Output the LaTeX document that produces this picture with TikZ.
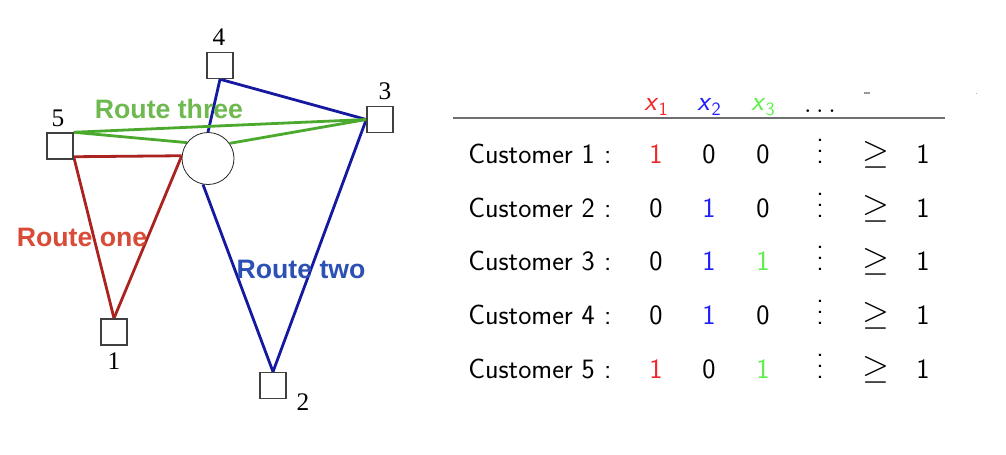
\documentclass[tikz,border=0pt]{standalone}
\usepackage{fontspec}
\usepackage{graphicx}
\usetikzlibrary{calc}
\newfontfamily\routefont{Liberation Sans}
\newfontfamily\numfont{Liberation Serif}
\definecolor{tred}{RGB}{240,40,40}
\definecolor{tblue}{RGB}{30,30,250}
\definecolor{tgreen}{RGB}{90,240,70}
\definecolor{lred}{RGB}{170,35,30}
\definecolor{lblue}{RGB}{20,25,160}
\definecolor{lgreen}{RGB}{75,170,45}
\definecolor{rone}{RGB}{215,75,55}
\definecolor{rtwo}{RGB}{45,80,180}
\definecolor{rthree}{RGB}{110,185,80}
\definecolor{rulegray}{RGB}{110,110,110}
\pgfdeclarelayer{bg}
\pgfsetlayers{bg,main}
\newcommand{\xvar}[1]{\textsl{x}\raisebox{-0.2em}{\fontsize{14}{14}\selectfont #1}}
\newcommand{\bigvd}{\smash{\fontsize{10}{12}\selectfont\scalebox{2}{$\vdots$}}}
\newcommand{\biggeq}{\scalebox{1.25}{$\geq$}}
\tikzset{
  custbox/.style={draw=black!75, fill=white, line width=1.1pt, minimum size=19.5pt, inner sep=0pt},
  depotnode/.style={circle, draw=black!85, fill=white, line width=0.6pt, minimum size=39pt, inner sep=0pt},
  numlab/.style={font=\numfont\fontsize{19}{19}\selectfont, anchor=base, inner sep=0pt},
  routelab/.style={font=\routefont\bfseries\fontsize{20}{22}\selectfont, anchor=base, inner sep=0pt},
  routeline/.style={line width=2.1pt},
  cell/.style={font=\sffamily\fontsize{21}{24}\selectfont, anchor=base, inner sep=0pt},
}
\begin{document}
\begin{tikzpicture}[x=0.75pt, y=-0.75pt]
\useasboundingbox (0,0) rectangle (1006,454);
% customers and depot
\node[custbox] (c4) at (220,65.5) {};
\node[custbox] (c3) at (380,119.5) {};
\node[custbox] (c5) at (60,146) {};
\node[custbox] (c1) at (114,332) {};
\node[custbox] (c2) at (273,385.5) {};
\node[depotnode] (dep) at (208,158.5) {};
% number labels
\node[numlab] (n4) at (219,45) {4};
\node[numlab] (n3) at (385,99) {3};
\node[numlab] (n5) at (58,126) {5};
\node[numlab] (n1) at (114,369) {1};
\node[numlab] (n2) at (303,410) {2};
% routes
\begin{pgfonlayer}{bg}
\draw[routeline, lred] ($(c5.south east)+(0,-3)$) -- (dep.174);
\draw[routeline, lred] ($(c5.south east)+(0,-3)$) -- (c1.north);
\draw[routeline, lred] (dep.174) -- (c1.north);
\draw[routeline, lblue] (c4.south) -- (c3.west);
\draw[routeline, lblue] (c4.south) -- (dep.north);
\draw[routeline, lblue] (c3.west) -- (c2.north);
\draw[routeline, lblue] (dep.259) -- (c2.north);
\draw[routeline, lgreen] (c5.north east) -- (c3.west);
\draw[routeline, lgreen] (c5.north east) -- (dep.143);
\draw[routeline, lgreen] (dep.35) -- (c3.west);
\end{pgfonlayer}
\node[routelab, text=rthree] (r3) at (169,118) {Route three};
\node[routelab, text=rone] (r1) at (82,246) {Route one};
\node[routelab, text=rtwo] (r2) at (301,278) {Route two};
% table
\coordinate (rl) at (453,118);
\coordinate (rr) at (945,118);
\draw[rulegray, line width=1.5pt] (rl) -- (rr);
\node[cell, text=tred] (h1) at (656,110) {\xvar{1}};
\node[cell, text=tblue] (h2) at (709,110) {\xvar{2}};
\node[cell, text=tgreen] (h3) at (763,110) {\xvar{3}};
\node[cell] (hd) at (820,112) {$\ldots$};
\fill[black!40] (864,92.3) rectangle (870,93.5);
\fill[black!30] (975.5,92.5) rectangle (977,93.5);
\foreach \r/\y/\a/\ca/\b/\cb/\c/\cc in {1/163/1/tred/0/black/0/black, 2/217/0/black/1/tblue/0/black, 3/270/0/black/1/tblue/1/tgreen, 4/324/0/black/1/tblue/0/black, 5/378/1/tred/0/black/1/tgreen}{
  \node[cell, anchor=base west] (cu\r) at (468,\y) {Customer \r\hspace{0.33em}:};
  \node[cell, text=\ca] (a\r) at (656,\y) {\a};
  \node[cell, text=\cb] (b\r) at (709,\y) {\b};
  \node[cell, text=\cc] (k\r) at (763,\y) {\c};
  \node[cell] (v\r) at (820,\y) {\bigvd};
  \node[cell] (g\r) at (876,\y) {\biggeq};
  \node[cell] (o\r) at (923,\y) {1};
}
\end{tikzpicture}
\end{document}
